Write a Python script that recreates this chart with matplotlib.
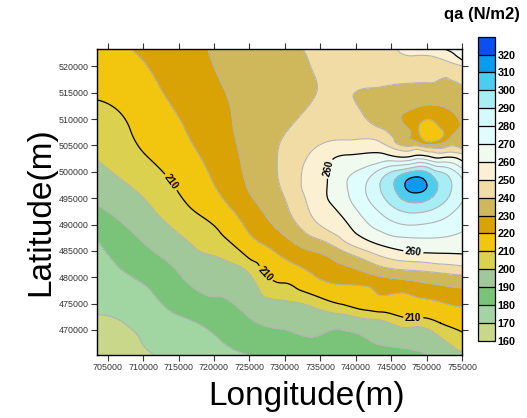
import numpy as np
import matplotlib
matplotlib.use("Agg")
import matplotlib.pyplot as plt
import matplotlib.tri as mtri

plt.rcParams['font.family'] = ['Liberation Sans', 'DejaVu Sans']

#=========================== qa samples (x m, y m) ===========================
# points lying on each isoline
iso_170 = [(703500, 472850), (707070, 471520), (709610, 468100), (711450, 465250)]
iso_180 = [(703500, 487080), (711020, 477590), (715250, 472660), (716660, 471900), (720900, 468100),
           (725130, 465250)]
iso_190 = [(703500, 493720), (709610, 487080), (715250, 480440), (719910, 476260), (724700, 472660),
           (729360, 470190), (734010, 468670), (743460, 467150), (748120, 466210), (750090, 465250)]
iso_200 = [(703500, 502260), (709610, 495620), (715250, 488030), (725130, 480440), (732180, 475120),
           (737820, 473040), (743460, 471900), (748120, 470570), (751920, 468670), (755000, 465830)]
iso_210 = [(703500, 513640), (708200, 507950), (713980, 498080), (717370, 492390), (719910, 489920),
           (724700, 483850), (727240, 480630), (729640, 478920), (734010, 476640), (737820, 474930),
           (743460, 473420), (748120, 472280), (751920, 471330), (755000, 469620)]
iso_220 = [(708200, 523300), (712430, 515920), (715960, 507950), (719490, 499030), (724420, 489360),
           (729360, 484040), (734010, 480440), (739230, 478540), (746280, 477020), (749100, 476070),
           (751920, 475310), (755000, 474360),
           # ring round the small low
           (748920, 507760), (752310, 507760), (750610, 509850), (750610, 505670)]
iso_230 = [(719200, 523300), (721180, 516490), (722590, 509850), (723430, 504160), (724700, 496950),
           (727520, 491250), (731750, 486130), (736410, 483660), (739230, 481950), (743880, 480060),
           (749100, 479110), (751920, 478540), (755000, 477970),
           (746560, 509470), (747690, 511750), (750510, 512690), (753330, 511750), (754750, 509280),
           (753330, 506430), (750510, 505100), (747690, 507000)]
iso_240 = [(732600, 523300), (734150, 518390), (734570, 515540), (731890, 510230), (729500, 506050),
           (728930, 501310), (729500, 496570), (730340, 493720), (732180, 489360), (737110, 485750),
           (740640, 483660), (743880, 481950), (749100, 481200), (751920, 480820), (755000, 480440),
           (739650, 514210), (742050, 515920), (746280, 516680), (750510, 516870), (755000, 516490),
           (740640, 511750), (743460, 508330), (748120, 504910), (750510, 504540), (755000, 504350)]
iso_250 = [(732320, 497510), (732740, 501690), (734290, 504540), (738800, 506050), (743460, 505670),
           (748120, 504160), (750510, 503780), (755000, 503400), (732600, 496000), (734570, 490300),
           (738800, 486510), (743880, 483850), (749100, 482900), (751920, 482520), (755000, 482140),
           (745860, 523300), (750510, 521990), (755000, 520090)]
iso_260 = [(752490, 523300), (754040, 522180), (755000, 521230),
           (755000, 502070), (751920, 502640), (748120, 503020), (743460, 503590), (738800, 503210),
           (736410, 501690), (735980, 497510), (736410, 494100), (738800, 490300), (743880, 485940),
           (747690, 484800), (750510, 484610), (755000, 484420)]
iso_270 = [(738770, 497510), (748500, 502450), (748500, 487460), (741610, 501010), (741610, 490400),
           (755000, 500740), (755000, 488600)]
iso_280 = [(741450, 497510), (748500, 501690), (748500, 489920), (743500, 500470), (753590, 500470),
           (743500, 492140), (753590, 492140)]
iso_290 = [(743420, 497510), (753570, 497510), (748500, 500930), (748500, 492200), (744900, 499920),
           (752090, 499920), (744900, 493760), (752090, 493760)]
iso_300 = [(745390, 497510), (751600, 497510), (748500, 500170), (748500, 494100), (746300, 499390),
           (750700, 499390), (746300, 495100), (750700, 495100)]
iso_310 = [(746950, 497510), (750050, 497510), (748500, 499030), (748500, 496000), (747400, 498600),
           (749600, 498600), (747400, 496390), (749600, 496390)]

# extremes, band middles and map border (x, y, qa)
spot_values = [(748500, 497510, 317), (750610, 507760, 214),
               (706090, 519340, 215), (712430, 506050, 215), (714550, 521230, 225), (719200, 508520, 225),
               (724140, 493720, 225), (726540, 521230, 235), (726250, 506050, 235), (727100, 496760, 235),
               (737820, 519340, 246), (730770, 501500, 245), (736410, 508900, 246), (734290, 497510, 255),
               (746280, 520090, 246), (742050, 518960, 245), (743460, 512120, 236), (750510, 511370, 225),
               (742050, 507570, 245),
               (726540, 484230, 215), (732180, 479680, 215), (739230, 476450, 215), (749100, 473980, 215),
               (732180, 476260, 205),
               (707500, 502260, 205), (718780, 487840, 205), (742050, 472850, 205), (709610, 491250, 195),
               (729360, 473420, 195), (746280, 468480, 195), (710320, 482330, 185), (732180, 467150, 186),
               (708200, 475690, 175)]
border_values = [(703500, 523300, 217), (703500, 465250, 165), (755000, 465250, 199), (755000, 523300, 263),
                 (703500, 518390, 214), (703500, 507950, 205), (703500, 497890, 195), (703500, 490490, 185),
                 (703500, 479490, 175), (703500, 468100, 168),
                 (725130, 523300, 235), (739230, 523300, 246), (749100, 523300, 255),
                 (706790, 465250, 167), (718070, 465250, 175), (737820, 465250, 185), (752630, 465250, 195),
                 (755000, 518390, 245), (755000, 513640, 235), (755000, 509280, 231), (755000, 506600, 234),
                 (755000, 497510, 282), (755000, 492770, 277), (755000, 486510, 265), (755000, 483280, 255),
                 (755000, 481200, 245), (755000, 479110, 235), (755000, 476260, 225), (755000, 471900, 215),
                 (755000, 467720, 205)]

levels = np.arange(160, 331, 10)
band_colors = ['#c9d78a', '#a1d6a2', '#7ac47a', '#a0c898', '#dbd14e', '#f2c50e', '#d9a306', '#cfb75c',
               '#f0dca4', '#fcf0d2', '#f1faee', '#e0fdfd', '#d6fafc', '#a6edf5', '#4ccdf0', '#0a9af0',
               '#0a4ff3']
cbar_ticks = np.arange(160, 321, 10)

#=========================== gather samples ===========================
iso_sets = [(170, iso_170), (180, iso_180), (190, iso_190), (200, iso_200), (210, iso_210),
            (220, iso_220), (230, iso_230), (240, iso_240), (250, iso_250), (260, iso_260),
            (270, iso_270), (280, iso_280), (290, iso_290), (300, iso_300), (310, iso_310)]
px, py, pz = [], [], []
for lev, pts in iso_sets:
    for x, y in pts:
        px.append(x); py.append(y); pz.append(lev)
for x, y, v in spot_values + border_values:
    px.append(x); py.append(y); pz.append(v)
px = np.array(px, float)
py = np.array(py, float)
pz = np.array(pz, float)

tri = mtri.Triangulation(px, py)
interp = mtri.CubicTriInterpolator(tri, pz, kind='min_E')
refiner = mtri.UniformTriRefiner(tri)
tri_r, z_r = refiner.refine_field(pz, triinterpolator=interp, subdiv=4)

#=========================== plotting ===========================
fig = plt.figure(figsize=(5.27, 4.18), dpi=100)
ax = fig.add_axes([97 / 527, 1 - 355 / 418, 365 / 527, 306 / 418])

cf = ax.tricontourf(tri_r, z_r, levels=levels, colors=band_colors)
grey_levels = [l for l in levels if l not in (210, 260, 310)]
ax.tricontour(tri_r, z_r, levels=grey_levels, colors='#b3b3b3', linewidths=0.8)
cs = ax.tricontour(tri_r, z_r, levels=[210, 260, 310], colors='k', linewidths=0.9)

label_pos = [(713980, 498080), (727240, 480630), (748120, 472280), (737110, 500360), (748120, 484610)]
lbls = ax.clabel(cs, levels=[210, 260], fmt='%d', fontsize=7, manual=label_pos, inline=True, inline_spacing=2)
for t in lbls:
    t.set_fontweight('bold')

ax.set_xlim(703500, 755000)
ax.set_ylim(465250, 523300)
ax.set_xticks(np.arange(705000, 755001, 5000))
ax.set_yticks(np.arange(470000, 520001, 5000))
ax.ticklabel_format(useOffset=False, style='plain')
ax.tick_params(direction='out', length=4, width=0.8, labelsize=6.4, colors='#333333',
               top=True, right=True, pad=2)
for s in ax.spines.values():
    s.set_linewidth(1.0)
    s.set_color('black')

# colour bar
cax = fig.add_axes([477.7 / 527, 1 - 340.7 / 418, 17.3 / 527, 304 / 418])
cb = fig.colorbar(cf, cax=cax, ticks=cbar_ticks, drawedges=True)
cb.outline.set_linewidth(0.9)
cb.dividers.set_color('black')
cb.dividers.set_linewidth(0.9)
cax.tick_params(length=0, pad=2, labelsize=7.8)
for t in cax.get_yticklabels():
    t.set_fontweight('bold')

fig.text(482 / 527, 1 - 15 / 418, 'qa (N/m2)', fontsize=12, fontweight='bold', ha='center', va='center')
fig.text(41 / 527, 1 - 212 / 418, 'Latitude(m)', fontsize=24, rotation=90, ha='center', va='center')
fig.text(306.5 / 527, 1 - 397 / 418, 'Longitude(m)', fontsize=24, ha='center', va='center')

fig.savefig('out.png', dpi=100)
